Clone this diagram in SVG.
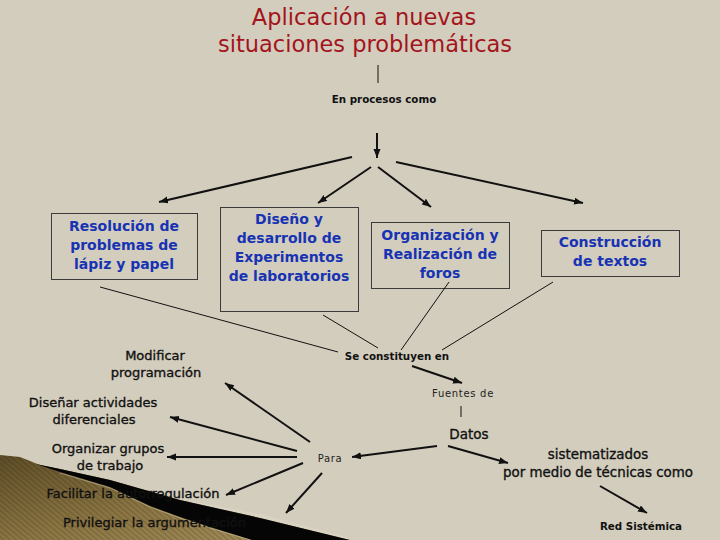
<svg xmlns="http://www.w3.org/2000/svg" width="720" height="540" viewBox="0 0 720 540">
<style>
.title{font-family:"DejaVu Sans",sans-serif;font-size:22.5px;fill:#a3141c;text-anchor:middle}
.box{fill:none;stroke:#3a3a3a;stroke-width:1}
.bt{font-family:"DejaVu Sans",sans-serif;font-weight:bold;font-size:14px;fill:#1733b3;text-anchor:middle}
.lb{font-family:"DejaVu Sans",sans-serif;font-size:13px;fill:#111;stroke:#111;stroke-width:0.35px;text-anchor:middle}
.sb{font-family:"DejaVu Sans",sans-serif;font-weight:bold;font-size:10.3px;fill:#111;text-anchor:middle}
.thin{font-family:"DejaVu Sans",sans-serif;font-size:10px;fill:#222;text-anchor:middle;letter-spacing:0.7px}
.arr{stroke:#111;stroke-width:2;fill:none;marker-end:url(#ah)}
.ln{stroke:#111;stroke-width:1;fill:none}
</style>
<defs>
<marker id="ah" markerUnits="userSpaceOnUse" markerWidth="10" markerHeight="8" refX="9" refY="3.5" orient="auto">
<path d="M0,0 L9,3.5 L0,7 z" fill="#111"/>
</marker>
<linearGradient id="brown" x1="0" y1="0" x2="1" y2="1">
<stop offset="0" stop-color="#5f4e27"/>
<stop offset="0.5" stop-color="#8c7643"/>
<stop offset="1" stop-color="#a8925e"/>
</linearGradient>
<pattern id="stripes" patternUnits="userSpaceOnUse" width="4" height="4" patternTransform="rotate(-50)">
<rect width="2" height="4" fill="#000" fill-opacity="0.12"/>
</pattern>
</defs>
<rect width="720" height="540" fill="#d3cdbd"/>
<g id="decoration">
<path d="M190,503 L260,516 L350,540" fill="none" stroke="#ddd7c8" stroke-width="4" stroke-opacity="0.6"/>
<path d="M0,455 L20,457 L40,465 L60,469 L110,480 L180,500 L260,518 L350,540 L0,540 Z" fill="url(#brown)"/>
<path d="M0,455 L20,457 L40,465 L60,469 L110,480 L180,500 L260,518 L350,540 L0,540 Z" fill="url(#stripes)"/>
<path d="M36,464 L60,469 L110,480 L180,500 L260,518 L350,540 L252,540 L210,527 L180,517 L150,506 L110,487 L60,472 Z" fill="#050505"/>
<path d="M60,473 L110,488 L150,507 L180,518 L210,528 L250,540" fill="none" stroke="#c9bd9c" stroke-width="1" stroke-opacity="0.6"/>
</g>
<g id="title">
<text class="title" x="364" y="25">Aplicación a nuevas</text>
<text class="title" x="365" y="52">situaciones problemáticas</text>
</g>
<g id="en-procesos"><text class="sb" x="384" y="103">En procesos como</text></g>
<g id="resolucion">
<rect class="box" x="51.5" y="213.5" width="146" height="66"/>
<text class="bt" x="124" y="231">Resolución de</text>
<text class="bt" x="124" y="250">problemas de</text>
<text class="bt" x="124" y="269">lápiz y papel</text>
</g>
<g id="diseno">
<rect class="box" x="220.5" y="207.5" width="138" height="104"/>
<text class="bt" x="289" y="224">Diseño y</text>
<text class="bt" x="289" y="243">desarrollo de</text>
<text class="bt" x="289" y="262">Experimentos</text>
<text class="bt" x="289" y="281">de laboratorios</text>
</g>
<g id="organizacion">
<rect class="box" x="371.5" y="222.5" width="138" height="66"/>
<text class="bt" x="440" y="240">Organización y</text>
<text class="bt" x="440" y="259">Realización de</text>
<text class="bt" x="440" y="278">foros</text>
</g>
<g id="construccion">
<rect class="box" x="541.5" y="230.5" width="138" height="46"/>
<text class="bt" x="610" y="247">Construcción</text>
<text class="bt" x="610" y="266">de textos</text>
</g>
<g id="se-constituyen"><text class="sb" x="397" y="360">Se constituyen en</text></g>
<g id="fuentes"><text class="thin" x="463" y="397">Fuentes de</text></g>
<g id="datos"><text class="lb" x="469" y="439" style="font-size:13.5px">Datos</text></g>
<g id="para"><text class="thin" x="330" y="462">Para</text></g>
<g id="sistematizados">
<text class="lb" x="598" y="459" style="font-size:13.4px">sistematizados</text>
<text class="lb" x="598" y="477" style="font-size:13.4px">por medio de técnicas como</text>
</g>
<g id="red"><text class="sb" x="641" y="530">Red Sistémica</text></g>
<g id="modificar">
<text class="lb" x="155" y="360">Modificar</text>
<text class="lb" x="156" y="377">programación</text>
</g>
<g id="disenar">
<text class="lb" x="93" y="407">Diseñar actividades</text>
<text class="lb" x="94" y="424">diferenciales</text>
</g>
<g id="organizar">
<text class="lb" x="108" y="453">Organizar grupos</text>
<text class="lb" x="110" y="470">de trabajo</text>
</g>
<g id="facilitar"><text class="lb" x="133" y="498">Facilitar la autorregulación</text></g>
<g id="privilegiar"><text class="lb" x="63" y="527" style="text-anchor:start">Privilegiar la argumentación</text></g>
<g id="connectors">
<line class="ln" x1="378" y1="65" x2="378" y2="83"/>
<line class="arr" x1="377" y1="133" x2="377" y2="158"/>
<line class="arr" x1="352" y1="157" x2="159" y2="202"/>
<line class="arr" x1="371" y1="167" x2="318" y2="203"/>
<line class="arr" x1="378" y1="167" x2="431" y2="207"/>
<line class="arr" x1="396" y1="162" x2="583" y2="203"/>
<line class="ln" x1="100" y1="287" x2="338" y2="352"/>
<line class="ln" x1="323" y1="315" x2="378" y2="348"/>
<line class="ln" x1="449" y1="282" x2="401" y2="350"/>
<line class="ln" x1="553" y1="282" x2="442" y2="350"/>
<line class="arr" x1="412" y1="366" x2="462" y2="383"/>
<line class="ln" x1="461" y1="406" x2="461" y2="417"/>
<line class="arr" x1="437" y1="446" x2="352" y2="457"/>
<line class="arr" x1="448" y1="446" x2="508" y2="463"/>
<line class="arr" x1="600" y1="486" x2="647" y2="513"/>
<line class="arr" x1="310" y1="442" x2="225" y2="383"/>
<line class="arr" x1="297" y1="451" x2="170" y2="417"/>
<line class="arr" x1="297" y1="457" x2="167" y2="457"/>
<line class="arr" x1="303" y1="463" x2="226" y2="495"/>
<line class="arr" x1="322" y1="473" x2="286" y2="513"/>
</g>
</svg>
